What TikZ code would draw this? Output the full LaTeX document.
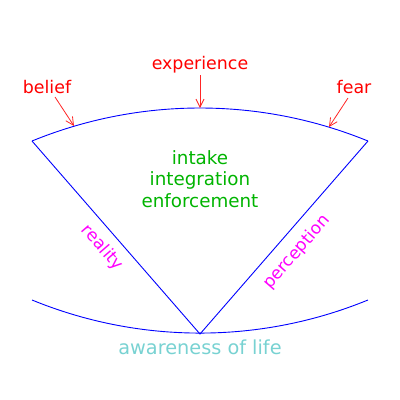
\documentclass[tikz,border=0pt]{standalone}
\usepackage{fontspec}
\setmainfont{DejaVu Sans}
\usetikzlibrary{arrows.meta}
\definecolor{myred}{RGB}{255,0,0}
\definecolor{mygreen}{RGB}{0,180,0}
\definecolor{mymag}{RGB}{255,0,255}
\definecolor{myteal}{RGB}{120,210,210}
\tikzset{
  bl/.style={draw=blue, line width=0.9pt},
  lbl/.style={text=myred, inner sep=0pt, font=\fontsize{17.4}{20}\selectfont},
  pt/.style={->, >={Straight Barb[length=8pt,width=8pt]}, draw=myred!85, line width=0.8pt},
  side/.style={text=mymag, inner sep=0pt, font=\fontsize{17}{20}\selectfont},
}
\begin{document}
\begin{tikzpicture}[x=1pt,y=1pt]
\useasboundingbox (0,0) rectangle (400,-400);
% geometry
\coordinate (apex) at (200,-334);
\coordinate (L) at (32,-141);
\coordinate (R) at (368,-141);
\draw[bl] (L) arc[start angle=112.23, end angle=67.77, radius=444];
\draw[bl] (L) -- (apex) -- (R);
\draw[bl] (32,-300) arc[start angle=247.72, end angle=292.28, radius=443.1];
% labels
\node[lbl] (exp) at (200,-65) {experience};
\node[lbl] (bel) at (47,-87) {belief};
\node[lbl] (fear) at (354,-87) {fear};
\coordinate (expT) at (200,-108);
\coordinate (belT) at (74,-126);
\coordinate (fearT) at (329,-127);
\coordinate (belS) at (55,-97);
\coordinate (fearS) at (348,-98);
\draw[pt] (200,-75) -- (expT);
\draw[pt] (belS) -- (belT);
\draw[pt] (fearS) -- (fearT);
\node[text=mygreen, align=center, inner sep=0pt, font=\fontsize{18.3}{21.5}\selectfont] (mid) at (200,-179) {intake\\integration\\enforcement};
\node[side, rotate=-49] (real) at (102,-248) {reality};
\node[side, rotate=49] (perc) at (297,-252) {perception};
\node[text=myteal, inner sep=0pt, font=\fontsize{19.3}{22}\selectfont] (aw) at (200,-347) {awareness of life};
\end{tikzpicture}
\end{document}
